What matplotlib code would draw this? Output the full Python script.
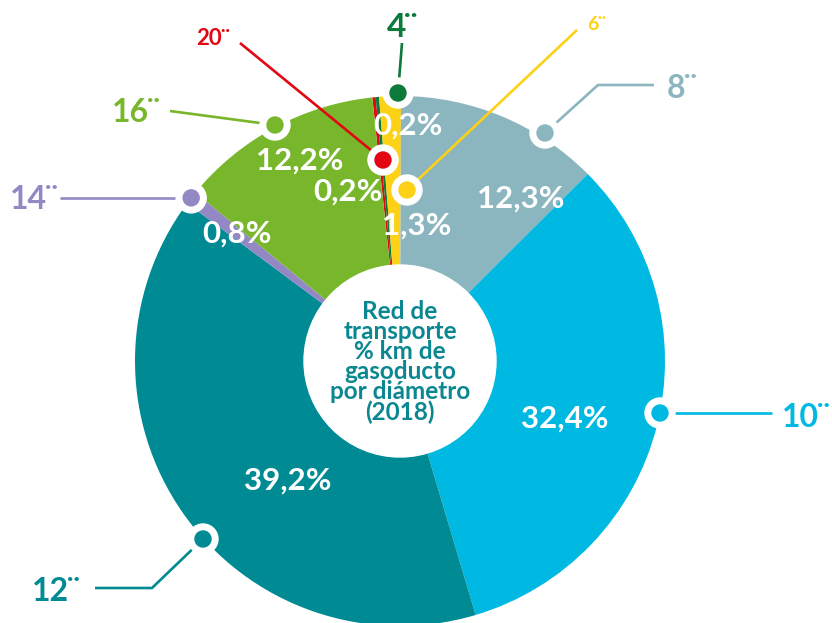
import matplotlib.pyplot as plt
import numpy as np
from matplotlib.patches import Circle

W, H = 832, 623
FONT = "Lato"

# pipeline diameters, clockwise from the top of the ring
sizes = ["20", "4", "6", "8", "10", "12", "14", "16"]
shares = [0.2, 0.2, 1.3, 12.3, 32.4, 39.2, 0.8, 12.2]
colors = ["#E30613", "#0B7A3B", "#FCD116", "#8BB5BF", "#00B9E2", "#008A94", "#9388C3", "#78B72B"]

center_title = "Red de\ntransporte\n% km de\ngasoducto\npor diámetro\n(2018)"

CX, CY = 400, 361          # ring centre in pixel coords (y down)
R_OUT, R_IN = 265, 96


def px(x, y):
    return x, H - y


def pct(v):
    return f"{v:.1f}".replace(".", ",") + "%"


fig = plt.figure(figsize=(W / 100, H / 100), dpi=100)
ax = fig.add_axes([0, 0, 1, 1])

wedges, _ = ax.pie(shares, colors=colors, startangle=96, counterclock=False,
                   center=px(CX, CY), radius=R_OUT, wedgeprops=dict(linewidth=0))
ax.add_patch(Circle(px(CX, CY), R_IN, color="white", zorder=3))
ax.set_xlim(0, W)
ax.set_ylim(0, H)
ax.set_aspect("equal")
ax.axis("off")

ax.text(*px(CX, 362), center_title, color="#0A8790", fontsize=17.5, fontweight="bold",
        family=FONT, ha="center", va="center", linespacing=0.84, zorder=4)


def on_wedge(i, r):
    w = wedges[i]
    a = np.deg2rad((w.theta1 + w.theta2) / 2)
    x, y = w.center[0] + r * np.cos(a), w.center[1] + r * np.sin(a)
    return x, H - y


# percentage labels: (wedge index, x, baseline y)
pct_pos = {
    0: (348, 201), 1: (408, 135), 2: (417, 235), 3: (521, 208),
    4: (565, 428), 5: (288, 490), 7: (300, 170),
}
mx14, my14 = on_wedge(6, 207)
pct_pos[6] = (mx14, my14 + 9)
for i, (x, y) in pct_pos.items():
    ax.text(*px(x, y), pct(shares[i]), color="white", fontsize=22.5, fontweight="bold",
            family=FONT, ha="center", va="baseline", zorder=5)

# leader lines: marker, path, left edge / baseline of the label, font size
mk14 = on_wedge(6, R_OUT)
leaders = {
    3: ((545, 133), [(598, 85), (654, 85)], (667, 98), 23),
    4: ((660, 413), [(772, 413)], (782, 427), 23),
    5: ((203, 539), [(152, 588), (95, 588)], (32, 601), 23),
    6: (mk14, [(60, mk14[1])], (10, mk14[1] + 11), 23),
    7: ((275, 125), [(170, 111)], (112, 122), 23),
    1: ((398, 93), [(402, 43)], (387, 37), 24),
    0: ((383, 160), [(240, 43)], (196, 45), 16),
    2: ((407, 190), [(577, 30)], (587, 30), 14),
}
for i, (mk, path, (tx, ty), fs) in leaders.items():
    pts = [mk] + path
    xs = [p[0] for p in pts]
    ys = [H - p[1] for p in pts]
    ax.plot(xs, ys, color=colors[i], lw=1.9, solid_capstyle="butt", zorder=6)
    ax.add_patch(Circle(px(*mk), 15, color="white", zorder=7))
    ax.add_patch(Circle(px(*mk), 8, color=colors[i], zorder=8))
    t = ax.text(*px(tx, ty), sizes[i], color=colors[i], fontsize=fs, fontweight="bold",
                family=FONT, ha="left", va="baseline", zorder=8)
    # inch marks tucked against the top right of the digits
    ax.annotate("¨", xy=(1, 1), xycoords=t, xytext=(-fs * 0.06, fs * 0.02),
                textcoords="offset points", ha="left", va="top", color=colors[i],
                fontsize=fs, fontweight="bold", family=FONT, zorder=8)

fig.savefig("out.png", dpi=100)
